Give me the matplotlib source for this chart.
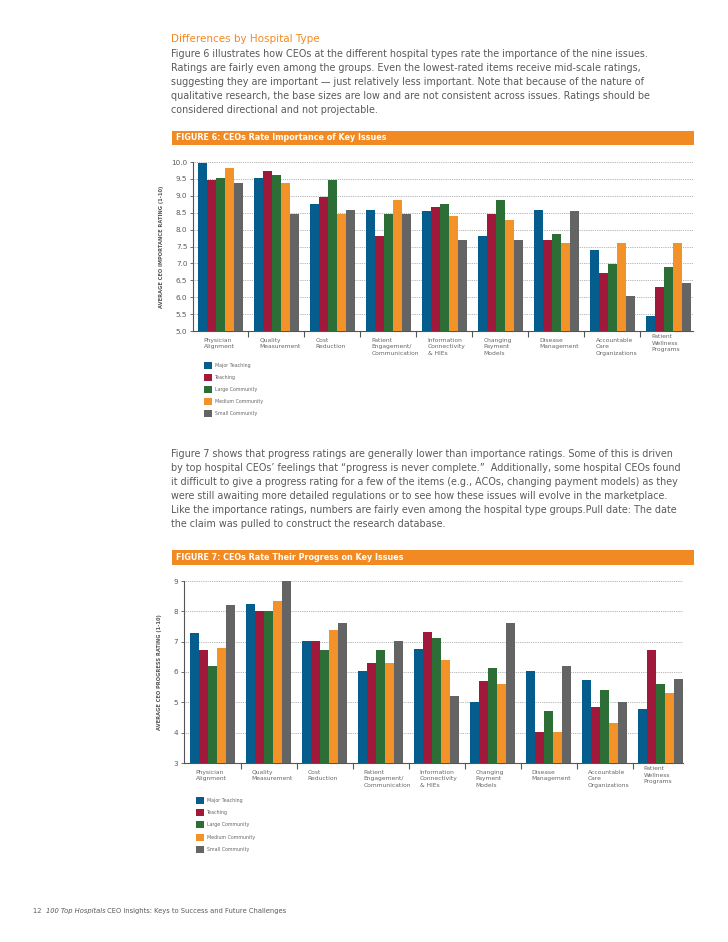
import matplotlib
matplotlib.use("Agg")
import matplotlib.pyplot as plt
from matplotlib.patches import Rectangle
import numpy as np

# ---------------- data ----------------
categories = ["Physician\nAlignment", "Quality\nMeasurement", "Cost\nReduction",
              "Patient\nEngagement/\nCommunication", "Information\nConnectivity\n& HIEs",
              "Changing\nPayment\nModels", "Disease\nManagement",
              "Accountable\nCare\nOrganizations", "Patient\nWellness\nPrograms"]
series_names = ["Major Teaching", "Teaching", "Large Community", "Medium Community", "Small Community"]
colors = ["#045d8c", "#a0183a", "#2c6e35", "#f39228", "#646464"]

importance_major_teaching = [9.97, 9.54, 8.76, 8.59, 8.54, 7.80, 8.59, 7.39, 5.44]
importance_teaching       = [9.48, 9.73, 8.96, 7.82, 8.66, 8.47, 7.69, 6.71, 6.31]
importance_large_comm     = [9.54, 9.61, 9.47, 8.47, 8.76, 8.89, 7.86, 6.99, 6.90]
importance_medium_comm    = [9.83, 9.38, 8.47, 8.89, 8.40, 8.29, 7.61, 7.61, 7.61]
importance_small_comm     = [9.38, 8.47, 8.59, 8.47, 7.69, 7.69, 8.55, 6.04, 6.42]

progress_major_teaching = [7.28, 8.25, 7.02, 6.02, 6.75, 5.02, 6.03, 5.75, 4.79]
progress_teaching       = [6.72, 8.02, 7.02, 6.30, 7.31, 5.71, 4.01, 4.83, 6.72]
progress_large_comm     = [6.20, 8.02, 6.72, 6.72, 7.13, 6.13, 4.70, 5.41, 5.61]
progress_medium_comm    = [6.79, 8.33, 7.40, 6.30, 6.40, 5.61, 4.01, 4.32, 5.30]
progress_small_comm     = [8.21, 9.00, 7.60, 7.02, 5.21, 7.61, 6.20, 5.01, 5.78]

imp_yticks = [5.0, 5.5, 6.0, 6.5, 7.0, 7.5, 8.0, 8.5, 9.0, 9.5, 10.0]
prog_yticks = [3, 4, 5, 6, 7, 8, 9]

heading = "Differences by Hospital Type"
para1 = ["Figure 6 illustrates how CEOs at the different hospital types rate the importance of the nine issues.",
         "Ratings are fairly even among the groups. Even the lowest-rated items receive mid-scale ratings,",
         "suggesting they are important \u2014 just relatively less important. Note that because of the nature of",
         "qualitative research, the base sizes are low and are not consistent across issues. Ratings should be",
         "considered directional and not projectable."]
para2 = ["Figure 7 shows that progress ratings are generally lower than importance ratings. Some of this is driven",
         "by top hospital CEOs\u2019 feelings that \u201cprogress is never complete.\u201d  Additionally, some hospital CEOs found",
         "it difficult to give a progress rating for a few of the items (e.g., ACOs, changing payment models) as they",
         "were still awaiting more detailed regulations or to see how these issues will evolve in the marketplace.",
         "Like the importance ratings, numbers are fairly even among the hospital type groups.Pull date: The date",
         "the claim was pulled to construct the research database."]
fig6_title = "FIGURE 6: CEOs Rate Importance of Key Issues"
fig7_title = "FIGURE 7: CEOs Rate Their Progress on Key Issues"
fig6_ylabel = "AVERAGE CEO IMPORTANCE RATING (1-10)"
fig7_ylabel = "AVERAGE CEO PROGRESS RATING (1-10)"
footer_parts = [("12  ", "normal"), ("100 Top Hospitals", "italic"),
                (" CEO Insights: Keys to Success and Future Challenges", "normal")]

# ---------------- layout ----------------
W, H = 728, 942
fig = plt.figure(figsize=(W / 100, H / 100), dpi=100)
fig.patch.set_facecolor("white")
plt.rcParams['font.family'] = ['DejaVu Sans']

ORANGE = "#f28a24"
TXT = "#5a5a5a"


def fx(x):
    return x / W


def fy(y):
    return 1 - y / H


def rect(x0, y0, x1, y1, color):
    fig.add_artist(Rectangle((fx(x0), fy(y1)), fx(x1) - fx(x0), fy(y0) - fy(y1),
                             transform=fig.transFigure, facecolor=color, edgecolor="none"))


# heading + paragraph 1
fig.text(fx(171), fy(39), heading, color=ORANGE, fontsize=7.5, va="center", ha="left")
for k, line in enumerate(para1):
    fig.text(fx(171), fy(54 + 14 * k), line, color=TXT, fontsize=6.9, va="center", ha="left")

rect(172, 131, 694, 145, ORANGE)
fig.text(fx(176), fy(138), fig6_title, color="white", fontsize=5.8, fontweight="bold", va="center", ha="left")

for k, line in enumerate(para2):
    fig.text(fx(171), fy(454 + 14 * k), line, color=TXT, fontsize=6.9, va="center", ha="left")

rect(172, 550, 694, 565, ORANGE)
fig.text(fx(176), fy(557.5), fig7_title, color="white", fontsize=5.8, fontweight="bold", va="center", ha="left")

# footer (placed sequentially)
renderer = fig.canvas.get_renderer()
xcur = 33
for part, style in footer_parts:
    t = fig.text(fx(xcur), fy(911), part, color=TXT, fontsize=4.9, style=style, va="center", ha="left")
    bb = t.get_window_extent(renderer=renderer)
    xcur += bb.width


def draw_chart(ax_box, data, yticks, ylim, ytick_fmt, ylabel, ylabel_x, xlim, legend_x, legend_y0):
    ax = fig.add_axes(ax_box)
    n = len(categories)
    x = np.arange(n)
    w = 0.16
    for s, vals in enumerate(data):
        ax.bar(x + (s - 2) * w, np.array(vals) - ylim[0], width=w, bottom=ylim[0],
               color=colors[s], edgecolor="none", zorder=3)
    ax.set_xlim(*xlim)
    ax.set_ylim(*ylim)
    ax.set_yticks(yticks)
    ax.set_yticklabels([ytick_fmt.format(t) for t in yticks], fontsize=5.2, color=TXT)
    ax.yaxis.grid(True, linestyle=(0, (1, 1.2)), color="#9a9a9a", linewidth=0.6, zorder=0)
    ax.set_axisbelow(True)
    ax.set_xticks(x[:-1] + 0.5)
    ax.set_xticklabels([])
    ax.tick_params(axis="x", direction="out", length=4, width=0.8, color="#555555")
    ax.tick_params(axis="y", length=2, width=0.6, color="#555555", pad=2)
    for sp in ["top", "right"]:
        ax.spines[sp].set_visible(False)
    for sp in ["left", "bottom"]:
        ax.spines[sp].set_color("#555555")
        ax.spines[sp].set_linewidth(0.8)
    for i, lab in enumerate(categories):
        off = -5 if i < n - 1 else -2.5
        ax.annotate(lab, xy=(i - 0.3, 0), xycoords=("data", "axes fraction"),
                    xytext=(0, off), textcoords="offset points", va="top", ha="left",
                    fontsize=4.3, color="#666666", linespacing=1.35)
    fig.text(fx(ylabel_x), ax_box[1] + ax_box[3] / 2, ylabel, rotation=90, fontsize=3.7,
             color="#555555", va="center", ha="center", fontweight="bold")
    for s, name in enumerate(series_names):
        y0 = legend_y0 + s * 12.2
        rect(legend_x, y0, legend_x + 7.5, y0 + 7, colors[s])
        fig.text(fx(legend_x + 11), fy(y0 + 3.5), name, fontsize=3.4, color="#666666",
                 va="center", ha="left")
    return ax


imp_data = [importance_major_teaching, importance_teaching, importance_large_comm,
            importance_medium_comm, importance_small_comm]
prog_data = [progress_major_teaching, progress_teaching, progress_large_comm,
             progress_medium_comm, progress_small_comm]

draw_chart([fx(193), fy(331), (693 - 193) / W, (331 - 162) / H], imp_data, imp_yticks, (5.0, 10.0),
           "{:.1f}", fig6_ylabel, 162, (-0.49, 8.44), 204, 361.5)
draw_chart([fx(184), fy(763), (683 - 184) / W, (763 - 581) / H], prog_data, prog_yticks, (3, 9),
           "{:.0f}", fig7_ylabel, 160, (-0.51, 8.40), 196, 797)

fig.savefig("out.png", dpi=100, facecolor="white")
